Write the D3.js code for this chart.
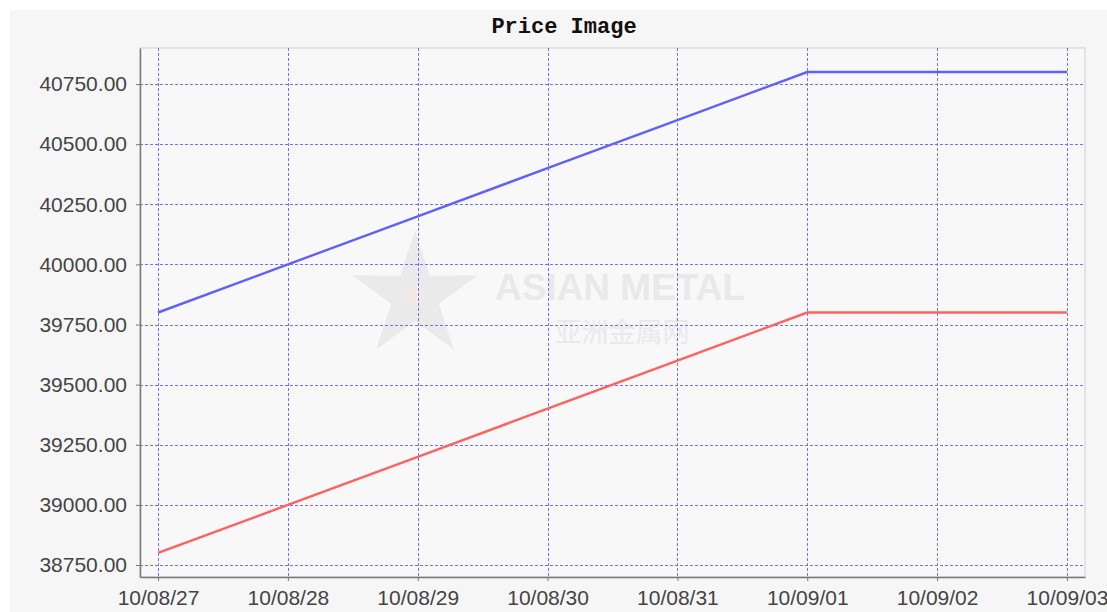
<!DOCTYPE html>
<html>
<head>
<meta charset="utf-8">
<script src="https://cdn.jsdelivr.net/npm/d3@7"></script>
<style>
  body { margin: 0; background: #ffffff; }
  svg { display: block; }
</style>
</head>
<body>
<div id="chart"></div>
<script>
// values
var dates = ["2010-08-27", "2010-08-28", "2010-08-29", "2010-08-30",
    "2010-08-31", "2010-09-01", "2010-09-02", "2010-09-03"];
var highPrice = [39800, 40000, 40200, 40400, 40600, 40800, 40800, 40800];
var lowPrice = [38800, 39000, 39200, 39400, 39600, 39800, 39800, 39800];
var yTicks = [38750, 39000, 39250, 39500, 39750, 40000, 40250, 40500, 40750];
var title = "Price Image";

var W = 1107, H = 612;
var plot = { left: 140, top: 48, right: 1085, bottom: 577 };

var parse = d3.timeParse("%Y-%m-%d");
var dayList = dates.map(parse);

var svg = d3.select("#chart").append("svg")
    .attr("width", W)
    .attr("height", H);

// chart background
svg.append("rect")
    .attr("x", 10).attr("y", 10)
    .attr("width", W - 10).attr("height", H - 10)
    .attr("fill", "#f6f6f6");

svg.append("rect")
    .attr("x", plot.left).attr("y", plot.top)
    .attr("width", plot.right - plot.left)
    .attr("height", plot.bottom - plot.top)
    .attr("fill", "#f8f8f8")
    .attr("stroke", "#dcdcdc")
    .attr("stroke-width", 1.5);

// small pad on each side like the original axis range
var pad = 0.139 * 864e5;
var x = d3.scaleTime()
    .domain([+dayList[0] - pad, +dayList[dayList.length - 1] + pad])
    .range([plot.left, plot.right]);

var y = d3.scaleLinear()
    .domain([38700, 40900])
    .range([plot.bottom, plot.top]);

// watermark
var wm = svg.append("g").attr("opacity", 0.6);
var cx = 415, cy = 296, ro = 66, ri = 25;
var starPts = d3.range(10).map(function(i) {
    var a = -Math.PI / 2 + i * Math.PI / 5;
    var r = i % 2 ? ri : ro;
    return [cx + r * Math.cos(a), cy + r * Math.sin(a)];
});
wm.append("polygon")
    .attr("points", starPts.map(function(p) { return p.join(","); }).join(" "))
    .attr("fill", "#e2e2e2");
wm.append("circle")
    .attr("cx", cx).attr("cy", cy)
    .attr("r", 10)
    .attr("fill", "#f2dede");
wm.append("text")
    .attr("x", 620).attr("y", 300)
    .attr("text-anchor", "middle")
    .attr("font-family", "Liberation Sans, Arial, sans-serif")
    .attr("font-weight", "bold")
    .attr("font-size", 37)
    .attr("fill", "#e0e0e0")
    .text("ASIAN METAL");
wm.append("text")
    .attr("x", 622).attr("y", 342)
    .attr("text-anchor", "middle")
    .attr("font-family", "Noto Sans CJK SC, sans-serif")
    .attr("font-size", 27)
    .attr("fill", "#e0e0e0")
    .text("亚洲金属网");

// grid
var grid = svg.append("g")
    .attr("stroke", "#7070ff")
    .attr("stroke-width", 1)
    .attr("stroke-dasharray", "3,2");
grid.selectAll(".gx")
    .data(dayList)
    .enter().append("line")
    .attr("x1", function(d) { return Math.round(x(d)) + 0.5; })
    .attr("x2", function(d) { return Math.round(x(d)) + 0.5; })
    .attr("y1", plot.top)
    .attr("y2", plot.bottom);
grid.selectAll(".gy")
    .data(yTicks)
    .enter().append("line")
    .attr("x1", plot.left)
    .attr("x2", plot.right)
    .attr("y1", function(d) { return Math.round(y(d)) + 0.5; })
    .attr("y2", function(d) { return Math.round(y(d)) + 0.5; });

// series
var line = d3.line()
    .x(function(d, i) { return x(dayList[i]); })
    .y(function(d) { return y(d); });

svg.append("path")
    .datum(highPrice)
    .attr("d", line)
    .attr("fill", "none")
    .attr("stroke", "#6060ff")
    .attr("stroke-width", 2.4);

svg.append("path")
    .datum(lowPrice)
    .attr("d", line)
    .attr("fill", "none")
    .attr("stroke", "#ff6060")
    .attr("stroke-width", 2.4);

// axes
var fmt = d3.format(".2f");
var yAxis = svg.append("g")
    .attr("transform", "translate(" + plot.left + ",0)")
    .call(d3.axisLeft(y).tickValues(yTicks).tickFormat(fmt)
        .tickSizeOuter(0).tickSizeInner(4).tickPadding(9));

var xAxis = svg.append("g")
    .attr("transform", "translate(0," + plot.bottom + ")")
    .call(d3.axisBottom(x).tickValues(dayList)
        .tickFormat(d3.timeFormat("%y/%m/%d"))
        .tickSizeOuter(0).tickSizeInner(4).tickPadding(9));

[yAxis, xAxis].forEach(function(a) {
    a.select(".domain").attr("stroke", "#777").attr("stroke-width", 1.5);
    a.selectAll(".tick line").attr("stroke", "#777");
    a.selectAll("text")
        .attr("fill", "#444")
        .attr("font-family", "Liberation Sans, Arial, sans-serif")
        .attr("font-size", 21);
});

// title
svg.append("text")
    .attr("x", 564).attr("y", 33)
    .attr("text-anchor", "middle")
    .attr("font-family", "Liberation Mono, Courier New, monospace")
    .attr("font-weight", "bold")
    .attr("font-size", 22)
    .attr("fill", "#111")
    .text(title);
</script>
</body>
</html>
